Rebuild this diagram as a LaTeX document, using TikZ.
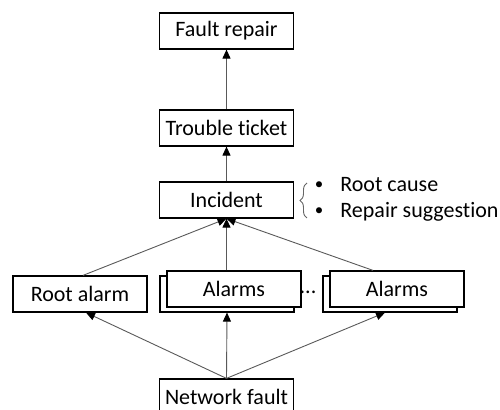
\documentclass[tikz,border=0pt]{standalone}
\usepackage{fontspec}
\setmainfont{Carlito}[Ligatures={NoCommon}]
\usetikzlibrary{arrows.meta,decorations.pathreplacing}

\begin{document}
\begin{tikzpicture}[x=0.5pt, y=-0.5pt,
        box/.style={draw, fill=white, line width=0.6pt, minimum width=67pt, minimum height=18pt, inner sep=0pt, font=\fontsize{11}{13}\selectfont},
        link/.style={draw=black!65, line width=0.45pt, -{Triangle[length=4.5pt, width=4pt, color=black]}},
        note/.style={inner sep=0pt, anchor=base west, font=\fontsize{11}{13}\selectfont}]
        \useasboundingbox (0,0) rectangle (500,410);

        \node[box] at (226.5, 31) (F) {Fault repair};
        \node[box] at (226.5, 128) (T) {Trouble ticket};
        \node[box] at (226.5, 200) (I) {Incident};

        \node[box] at (80, 294) (R) {Root alarm};
        \node[box] at (227, 294) (A1b) {};
        \node[box] at (234, 289) (A1) {Alarms};
        \node[inner sep=0pt, font=\fontsize{11}{13}\selectfont] at (308, 292) (D) {...};
        \node[box] at (390, 294) (A2b) {};
        \node[box] at (397, 289) (A2) {Alarms};

        \node[box] at (226.5, 397) (N) {Network fault};

        \draw[link] (T) -- (F);
        \draw[link] (I) -- (T);
        \draw[link] ([xshift=1.5pt]R.north) -- (I.south);
        \draw[link] (A1.north -| I.south) -- (I.south);
        \draw[link] ([xshift=-12pt]A2.north) -- (I.south);
        \draw[link] (N.north) -- ([xshift=3pt]R.south);
        \draw[link] (N.north) -- (A1b.south);
        \draw[link] (N.north) -- ([xshift=-2.5pt]A2b.south);

        % what the incident carries
        \coordinate (BL) at (307, 218);
        \coordinate (BH) at (307, 183);
        \draw[draw=black!60, line width=0.45pt, decorate, decoration={brace, amplitude=3.5pt}] (BL) -- (BH);
        \node[inner sep=0pt, scale=0.85] at (319, 186) (B1) {\textbullet};
        \node[inner sep=0pt, scale=0.85] at (319, 212) (B2) {\textbullet};
        \node[note] at (340, 192) (RC) {Root cause};
        \node[note] at (340, 218) (RS) {Repair suggestion};
    \end{tikzpicture}
\end{document}
